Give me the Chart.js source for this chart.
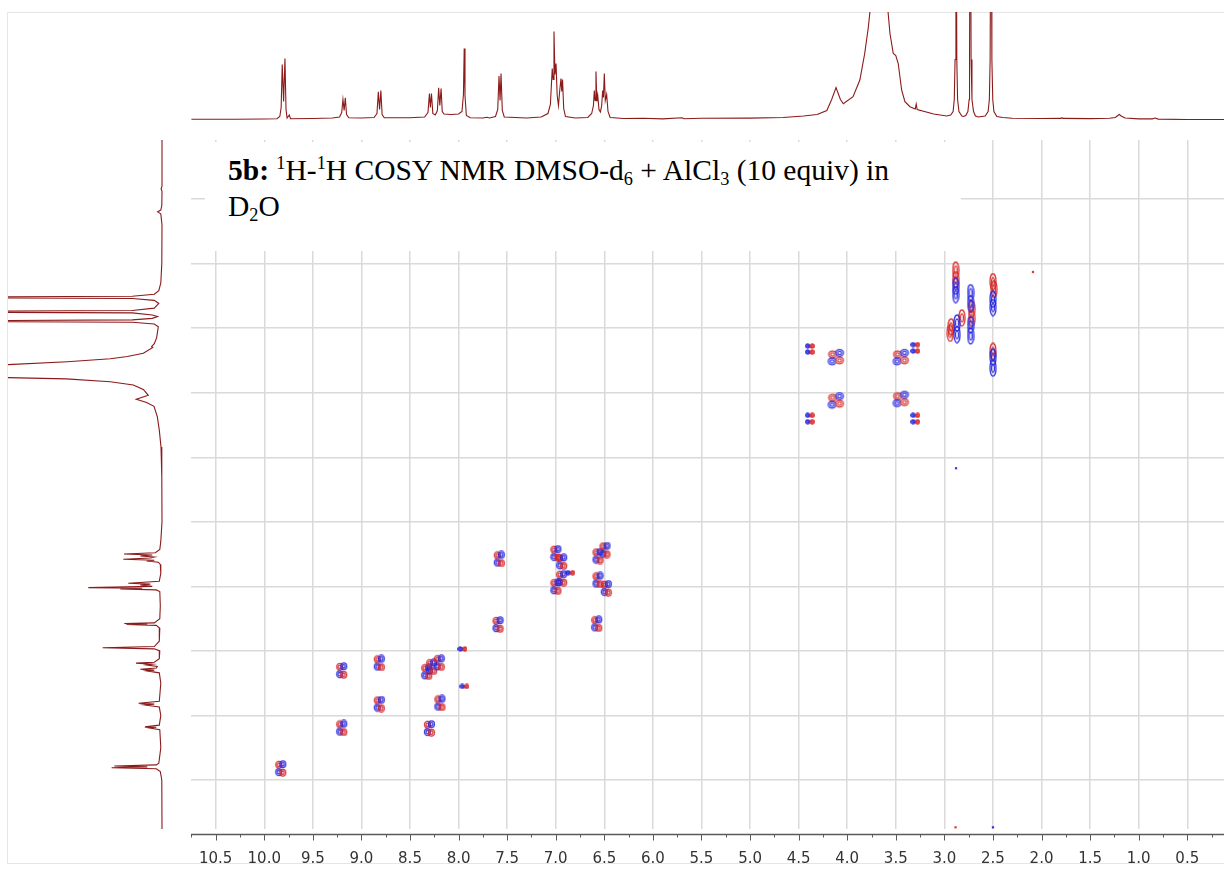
<!DOCTYPE html>
<html>
<head>
<meta charset="utf-8">
<title>5b COSY</title>
<script src="https://cdn.jsdelivr.net/npm/chart.js@4.4.1/dist/chart.umd.min.js"></script>
<style>
  html, body { margin: 0; padding: 0; background: #fff; }
  body { width: 1224px; height: 876px; position: relative; overflow: hidden; }
  canvas { position: absolute; }
  #frame { position: absolute; left: 7px; top: 12px; width: 1240px; height: 852px;
           border: 1px solid #e6e6e6; border-right: none; box-sizing: border-box; }
  #cosy { left: 191px; top: 140px; }
  #f2proj { left: 191px; top: 0; }
  #f1proj { left: 0; top: 140px; }
  #title { position: absolute; left: 205px; top: 142px; width: 756px; height: 109px;
           background: #fff; box-sizing: border-box; padding: 10px 0 0 23px;
           font-family: "Liberation Serif", "Times New Roman", serif; font-size: 29.5px;
           line-height: 36px; color: #000; }
  #title sup, #title sub { font-size: 0.62em; line-height: 0; position: relative; vertical-align: baseline; }
  #title sup { top: -0.6em; }
  #title sub { top: 0.3em; }
</style>
</head>
<body>
<div id="frame"></div>
<canvas id="f2proj" width="1033" height="122"></canvas>
<canvas id="f1proj" width="170" height="689"></canvas>
<canvas id="cosy" width="1033" height="736"></canvas>
<div id="title"><b>5b:</b> <sup>1</sup>H-<sup>1</sup>H COSY NMR DMSO-d<sub>6</sub> + AlCl<sub>3</sub> (10 equiv) in<br>D<sub>2</sub>O</div>

<script>
// ppm windows of the two dimensions
const F2_MIN = 0.122, F2_MAX = 10.754;
const F1_MIN = 0.085, F1_MAX = 10.759;

const f2Ticks = [10.5, 10.0, 9.5, 9.0, 8.5, 8.0, 7.5, 7.0, 6.5, 6.0, 5.5, 5.0, 4.5, 4.0, 3.5, 3.0, 2.5, 2.0, 1.5, 1.0, 0.5];
const f1Grid = [1, 2, 3, 4, 5, 6, 7, 8, 9, 10];

// 1D projection along F2: [ppm, intensity]
const topTrace = [
  [10.75,0.3],[10.3,0.3],[10.0,0.5],[9.87,0.8],[9.84,3],[9.826,12],[9.815,55],[9.801,18],[9.787,61],[9.776,10],[9.765,1.5],[9.742,4.5],[9.73,0.8],
  [9.5,1],[9.3,1.5],[9.225,2.5],[9.203,7],[9.19,20],[9.178,9],[9.166,21.6],[9.153,5],[9.13,1.8],
  [9.0,1.5],[8.87,2],[8.84,6],[8.826,27.6],[8.813,10],[8.80,29],[8.787,5],[8.765,1.8],
  [8.5,1.8],[8.35,2.5],[8.315,7],[8.30,26],[8.29,12],[8.279,26],[8.265,6],[8.24,4.5],[8.218,9],[8.205,31.6],[8.193,14],[8.18,31],[8.168,8],
  [8.15,5.5],[8.08,5],[8.0,5.5],[7.965,8],[7.95,25],[7.942,71],[7.934,24],[7.92,4],[7.88,1.8],[7.75,1.5],[7.71,2.3],[7.68,1.5],
  [7.62,3],[7.597,10],[7.584,43.6],[7.573,19],[7.563,46],[7.55,9],[7.53,2.5],
  [7.3,1.5],[7.15,2.5],[7.08,6],[7.055,15],[7.036,51],[7.027,40],[7.018,88],[7.008,45],[6.997,56],[6.985,24],[6.972,14],[6.958,30],[6.946,41],[6.938,28],[6.93,40],[6.918,11],[6.90,3],
  [6.8,1.5],[6.67,2],[6.63,6],[6.612,14],[6.603,29],[6.595,19],[6.586,48],[6.577,18],[6.568,24.3],[6.555,10],[6.54,7.6],[6.527,14],[6.517,29],[6.509,22],[6.50,46],[6.49,19],[6.476,25],[6.462,8],[6.44,2],
  [6.3,1],[6.1,1.2],[5.9,0.6],[5.7,1.8],[5.68,0.7],[5.5,1.2],[5.0,1.4],[4.66,2],[4.45,3.5],[4.31,5],[4.21,9],[4.16,20],[4.115,32],[4.07,20],[4.04,15.7],
  [3.94,22.8],[3.87,39.5],[3.82,66],[3.783,92],[3.766,108],[3.72,200],[3.67,250],[3.62,200],[3.58,108],[3.56,86],[3.526,66],[3.50,64],[3.475,56],[3.44,29.5],
  [3.406,17.8],[3.354,12.8],[3.30,10.5],[3.29,15.5],[3.28,10],[3.11,5.5],[2.976,3.5],[2.935,4.5],
  [2.91,8],[2.898,20],[2.89,60],[2.881,300],[2.872,60],[2.864,20],[2.85,8],[2.82,3.5],[2.805,3],[2.78,4],
  [2.758,8],[2.745,20],[2.741,60],[2.733,300],[2.725,60],[2.716,20],[2.70,8],[2.68,3.5],[2.65,2.5],[2.58,3.5],
  [2.55,8],[2.537,20],[2.529,60],[2.52,300],[2.511,60],[2.502,20],[2.49,8],[2.46,3],[2.40,2],[2.30,1.2],
  [2.0,1],[1.80,1.1],[1.79,1.8],[1.78,1.1],[1.5,0.9],[1.3,1.2],[1.24,2],[1.215,4],[1.20,5],[1.18,3.5],[1.14,1.5],[1.0,0.6],[0.86,0.6],[0.83,1.5],[0.8,0.4],[0.5,0],[0.12,0]
];

// 1D projection along F1: [intensity, ppm]
const leftTrace = [
  [0.3,0.085],[0.3,0.8],[1.2,0.84],[0.3,0.88],[0.5,1.1],[1.5,1.17],[4.7,1.198],[1.5,1.23],[0.3,1.4],[0.5,2.0],[1.5,2.3],[3.5,2.42],
  [8,2.475],[30,2.505],[300,2.522],[30,2.54],[8,2.57],[3.5,2.617],[8,2.69],[30,2.727],[300,2.745],[30,2.763],[10,2.795],[4.7,2.82],
  [10,2.848],[30,2.872],[300,2.89],[30,2.908],[8,2.935],[4,2.98],[5.7,3.15],[8,3.24],[10.7,3.287],[9.5,3.3],[19,3.39],[35,3.44],
  [52,3.475],[95,3.52],[160,3.57],[300,3.66],[160,3.765],[96,3.785],[52,3.83],[29,3.88],[19,3.95],[14,4.04],[26,4.10],[15.7,4.15],
  [8.3,4.21],[5,4.37],[3,4.58],[1.3,4.84],[0.5,5.3],[0.3,6.0],
  [1.5,6.3],[2.5,6.43],[7,6.48],[38.3,6.499],[10,6.515],[22,6.53],[8,6.545],[12,6.56],[39,6.58],[8,6.595],[15.7,6.607],[4,6.625],[2,6.66],
  [1.5,6.8],[3,6.92],[34,6.953],[12,6.966],[22,6.979],[10,7.0],[74,7.02],[20,7.03],[42,7.04],[6,7.055],[2.5,7.08],[2,7.3],[2.5,7.5],
  [8,7.565],[38,7.575],[15,7.583],[36,7.592],[6,7.605],[2.5,7.65],[3,7.85],[8,7.932],[59.7,7.95],[8,7.968],[2.5,8.0],[3,8.12],
  [8,8.175],[26.3,8.19],[10,8.205],[15.7,8.218],[5,8.24],[6,8.265],[22,8.285],[8,8.298],[15.7,8.31],[3,8.34],[1.5,8.5],
  [3,8.78],[23.7,8.812],[8,8.825],[18,8.838],[3,8.87],[1.5,9.0],[3,9.15],[17.3,9.174],[6,9.182],[14,9.19],[2.5,9.22],[1.5,9.5],
  [3.5,9.74],[6,9.765],[48,9.783],[15,9.796],[50.7,9.809],[6,9.825],[2,9.87],[0.5,10.0],[0.3,10.76]
];

// 2D contour peaks: [F2 ppm, F1 ppm]
const aliphaticPeaks = [[4.115,3.452],[4.115,4.124],[3.447,3.452],[3.447,4.10]];
const aromaticPeaks = [
  [9.83,9.82],[9.203,8.304],[9.203,9.194],[8.816,8.187],[8.816,8.823],[8.328,8.322],[8.277,8.245],[8.199,8.183],[8.192,8.807],[8.30,9.20],
  [7.581,6.576],[7.594,7.591],[6.998,6.488],[6.939,6.618],[6.939,6.875],[6.998,7.005],[6.565,6.53],[6.493,6.437],[6.565,6.90],[6.48,7.03],[6.578,7.58]
];
const weakPeaks = [
  [4.385,3.277],[4.385,3.37],[4.385,4.35],[4.385,4.45],[3.30,3.256],[3.30,3.354],[3.30,4.35],[3.30,4.45],
  [7.96,7.97],[7.94,8.55],[6.85,6.79]
];
const redStreaks = [[2.884,2.10],[2.884,2.25],[2.93,2.98],[2.94,3.08],[2.72,2.70],[2.72,2.85],[2.82,2.84],[2.50,2.28],[2.49,2.40],[2.50,3.36]];
const blueStreaks = [[2.884,2.35],[2.884,2.48],[2.87,2.92],[2.87,3.10],[2.73,2.45],[2.73,2.62],[2.73,2.95],[2.73,3.12],[2.50,2.55],[2.50,2.68],[2.50,3.45],[2.50,3.62]];
const redDots = [[2.088,2.13],[2.885,10.733]];
const blueDots = [[2.88,5.17],[2.50,10.733]];

const RED = 'rgba(214,32,32,0.88)';
const BLUE = 'rgba(32,32,222,0.88)';
const TRACE = '#8b1a1a';
const GRID = '#dadada';

const pts = a => a.map(([x, y]) => ({ x, y }));

// contour glyphs: each ring is [cx, cy, rx, ry, colour], drawn as two nested levels
function glyph(w, h, rings) {
  const c = document.createElement('canvas');
  c.width = w; c.height = h;
  const g = c.getContext('2d');
  g.lineWidth = 1.3;
  rings.forEach(([cx, cy, rx, ry, col]) => {
    g.strokeStyle = col;
    g.beginPath(); g.ellipse(cx, cy, rx, ry, 0, 0, Math.PI * 2); g.stroke();
    g.beginPath(); g.ellipse(cx, cy, rx * 0.5, ry * 0.5, 0, 0, Math.PI * 2); g.stroke();
  });
  return c;
}

const quadWide = glyph(19, 19, [[6,6.5,3.8,3.4,RED],[13,5,3.8,3.4,BLUE],[5.5,13.5,3.8,3.4,BLUE],[13,12.5,3.8,3.4,RED]]);
const quadNarrow = glyph(13, 17, [[4.5,4.8,3,3.4,RED],[8.5,4.3,3,3.4,BLUE],[4.5,12.2,3,3.4,BLUE],[8.5,12.7,3,3.4,RED]]);
const tinyPair = glyph(10, 6, [[2.7,3,2,2,BLUE],[7.3,3,2,2,RED]]);
const streakRed = glyph(8, 18, [[4,9,3,8,RED]]);
const streakBlue = glyph(8, 18, [[4,9,3,8,BLUE]]);

// axis line with major and minor tick marks, set a little below the grid
const f2Axis = {
  id: 'f2Axis',
  afterDraw(chart) {
    const { ctx, chartArea, scales: { x } } = chart;
    const y0 = chartArea.bottom + 5.5;
    ctx.save();
    ctx.strokeStyle = '#5a5a5a';
    ctx.lineWidth = 1.5;
    ctx.beginPath();
    ctx.moveTo(chartArea.left, y0);
    ctx.lineTo(chartArea.right, y0);
    ctx.stroke();
    ctx.lineWidth = 1;
    const mark = (v, len) => {
      const px = Math.round(x.getPixelForValue(v)) + 0.5;
      ctx.beginPath(); ctx.moveTo(px, y0); ctx.lineTo(px, y0 + len); ctx.stroke();
    };
    f2Ticks.forEach(v => mark(v, 6));
    f2Ticks.forEach(v => mark(v + 0.25, 3));
    mark(f2Ticks[f2Ticks.length - 1] - 0.25, 3);
    ctx.restore();
  }
};

const noUi = { legend: { display: false }, tooltip: { enabled: false } };

function glyphSet(data, style) {
  return { data: pts(data), pointStyle: style, pointRadius: 3, pointHoverRadius: 3 };
}
function dotSet(data, col) {
  return { data: pts(data), pointStyle: 'rect', pointRadius: 1.6, backgroundColor: col, borderWidth: 0 };
}

new Chart(document.getElementById('cosy'), {
  type: 'scatter',
  data: {
    datasets: [
      glyphSet(blueStreaks, streakBlue),
      glyphSet(redStreaks, streakRed),
      glyphSet(aliphaticPeaks, quadWide),
      glyphSet(aromaticPeaks, quadNarrow),
      glyphSet(weakPeaks, tinyPair),
      dotSet(redDots, RED),
      dotSet(blueDots, BLUE)
    ]
  },
  options: {
    responsive: false,
    animation: false,
    events: [],
    layout: { padding: 0, autoPadding: false },
    plugins: noUi,
    scales: {
      x: {
        type: 'linear', reverse: true, min: F2_MIN, max: F2_MAX,
        afterBuildTicks: s => { s.ticks = f2Ticks.map(v => ({ value: v })); },
        afterFit: s => { s.height = 47; s.paddingLeft = 0; s.paddingRight = 0; },
        ticks: {
          callback: v => Number(v).toFixed(1),
          color: '#333', font: { family: 'DejaVu Sans', size: 15 },
          padding: 0, maxRotation: 0, autoSkip: false
        },
        // invisible tick marks only push the labels down; the visible ones come from f2Axis
        grid: { color: GRID, lineWidth: 1.5, drawTicks: true, tickLength: 21, tickColor: 'rgba(0,0,0,0)' },
        border: { display: false }
      },
      y: {
        type: 'linear', reverse: true, min: F1_MIN, max: F1_MAX,
        afterBuildTicks: s => { s.ticks = f1Grid.map(v => ({ value: v })); },
        afterFit: s => { s.width = 0; s.paddingTop = 0; s.paddingBottom = 0; },
        ticks: { display: false },
        grid: { color: GRID, lineWidth: 1.5, drawTicks: false },
        border: { display: false }
      }
    }
  },
  plugins: [f2Axis]
});

const traceSet = data => ({
  data: pts(data), showLine: true, pointRadius: 0, borderColor: TRACE, borderWidth: 1.1, tension: 0
});

new Chart(document.getElementById('f2proj'), {
  type: 'scatter',
  data: { datasets: [traceSet(topTrace)] },
  options: {
    responsive: false, animation: false, events: [],
    layout: { padding: { top: 12, bottom: 2, left: 0, right: 0 }, autoPadding: false },
    plugins: noUi,
    scales: {
      x: { type: 'linear', reverse: true, min: F2_MIN, max: F2_MAX, display: false },
      y: { type: 'linear', min: -0.5, max: 107.5, display: false }
    }
  }
});

new Chart(document.getElementById('f1proj'), {
  type: 'scatter',
  data: { datasets: [traceSet(leftTrace)] },
  options: {
    responsive: false, animation: false, events: [],
    layout: { padding: { left: 8, right: 0, top: 0, bottom: 0 }, autoPadding: false },
    plugins: noUi,
    scales: {
      x: { type: 'linear', reverse: true, min: -7.7, max: 154.3, display: false },
      y: { type: 'linear', reverse: true, min: F1_MIN, max: F1_MAX, display: false }
    }
  }
});
</script>
</body>
</html>
